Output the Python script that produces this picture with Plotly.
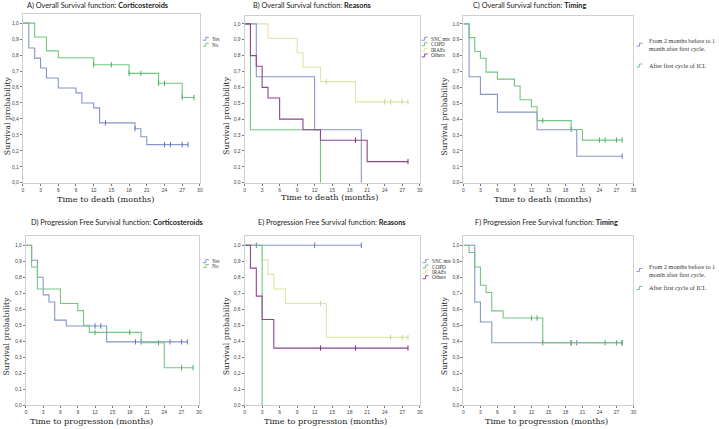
import bisect
import plotly.graph_objects as go

W, H = 719, 429

# ---------------- DATA ----------------
# Panel A: Overall survival, corticosteroids
A_yes_t = [0, 1, 2, 3, 4, 6, 9, 10, 12, 13, 19, 20, 21, 28]
A_yes_s = [1, 0.844, 0.781, 0.719, 0.656, 0.594, 0.563, 0.5, 0.469, 0.375, 0.338, 0.288, 0.239, 0.239]
A_yes_c = [14, 19, 24, 25, 27, 28]
A_no_t = [0, 2, 4, 6, 12, 18, 23, 27, 29]
A_no_s = [1, 0.913, 0.826, 0.783, 0.739, 0.685, 0.623, 0.534, 0.534]
A_no_c = [12, 15, 18, 20, 23, 24, 27, 29]

# Panel B: Overall survival, reasons
B_snc_t = [0, 2, 12, 20]
B_snc_s = [1, 0.667, 0.333, 0]
B_snc_c = []
B_copd_t = [0, 1, 13]
B_copd_s = [1, 0.333, 0]
B_copd_c = []
B_irae_t = [0, 4, 9, 10, 13, 19, 28]
B_irae_s = [1, 0.909, 0.818, 0.727, 0.636, 0.509, 0.509]
B_irae_c = [14, 24, 25, 27, 28]
B_oth_t = [0, 1, 2, 3, 4, 6, 10, 13, 21, 28]
B_oth_s = [1, 0.8, 0.733, 0.6, 0.533, 0.4, 0.333, 0.267, 0.133, 0.133]
B_oth_c = [19, 28]

# Panel C: Overall survival, timing
C_early_t = [0, 1, 3, 6, 13, 20, 28]
C_early_s = [1, 0.667, 0.556, 0.444, 0.333, 0.167, 0.167]
C_early_c = [28]
C_after_t = [0, 1, 2, 3, 4, 6, 9, 10, 12, 13, 19, 21, 28]
C_after_s = [1, 0.913, 0.826, 0.783, 0.696, 0.652, 0.609, 0.522, 0.478, 0.391, 0.335, 0.268, 0.268]
C_after_c = [14, 19, 24, 25, 27, 28]

# Panel D: PFS, corticosteroids
D_yes_t = [0, 1, 2, 3, 4, 5, 7, 14, 28]
D_yes_s = [1, 0.906, 0.8, 0.69, 0.645, 0.532, 0.495, 0.396, 0.396]
D_yes_c = [12, 13, 19, 20, 25, 27, 28]
D_no_t = [0, 1, 2, 6, 9, 10, 11, 20, 24, 29]
D_no_s = [1, 0.864, 0.727, 0.636, 0.591, 0.5, 0.455, 0.39, 0.234, 0.234]
D_no_c = [12, 18, 23, 27, 29]

# Panel E: PFS, reasons
E_snc_t = [0, 20]
E_snc_s = [1, 1]
E_snc_c = [2, 12, 20]
E_copd_t = [0, 3]
E_copd_s = [1, 0]
E_copd_c = []
E_irae_t = [0, 3, 4, 5, 7, 14, 28]
E_irae_s = [1, 0.909, 0.818, 0.727, 0.636, 0.424, 0.424]
E_irae_c = [13, 25, 27, 28]
E_oth_t = [0, 1, 2, 3, 5, 28]
E_oth_s = [1, 0.857, 0.682, 0.536, 0.357, 0.357]
E_oth_c = [13, 19, 28]

# Panel F: PFS, timing
F_early_t = [0, 2, 3, 5, 28]
F_early_s = [1, 0.645, 0.52, 0.39, 0.39]
F_early_c = [19, 20, 28]
F_after_t = [0, 1, 2, 3, 4, 5, 7, 14, 28]
F_after_s = [1, 0.955, 0.864, 0.75, 0.705, 0.59, 0.545, 0.39, 0.39]
F_after_c = [12, 13, 14, 19, 25, 27, 28]

x_ticks = [0, 3, 6, 9, 12, 15, 18, 21, 24, 27, 30]
y_ticks = [0, 0.1, 0.2, 0.3, 0.4, 0.5, 0.6, 0.7, 0.8, 0.9, 1.0]
y_ticktext = ["0,0", "0,1", "0,2", "0,3", "0,4", "0,5", "0,6", "0,7", "0,8", "0,9", "1,0"]

# ---------------- STYLE ----------------
BLUE, BLUE_D = "#8795cb", "#6474bb"
GREEN, GREEN_D = "#72c682", "#4fae5f"
YEL, YEL_D = "#e2e3a6", "#d0d190"
PURP, PURP_D = "#8e4490", "#7a3480"

def px(x):
    return x / W

def py(y):
    return 1 - y / H

# panel geometry in pixels: (x0, x1, ybottom, ytop, yrange_top)
panels = [
    (22, 200, 184, 14, 1.058),
    (245, 421, 184, 16, 1.05),
    (465, 636, 184, 16, 1.05),
    (25, 199, 408, 238, 1.056),
    (245, 421, 408, 238, 1.056),
    (465, 636, 408, 238, 1.056),
]

fig = go.Figure()

def km(panel, t, s, cens, color, dcolor, name):
    ax = "" if panel == 1 else str(panel)
    fig.add_trace(go.Scatter(x=t, y=s, mode="lines", line=dict(color=color, width=1.1, shape="hv"),
                             xaxis="x" + ax, yaxis="y" + ax, name=name, showlegend=False,
                             hoverinfo="skip"))
    if cens:
        cy = [s[bisect.bisect_right(t, c) - 1] for c in cens]
        fig.add_trace(go.Scatter(x=cens, y=cy, mode="markers",
                                 marker=dict(symbol="line-ns-open", size=3.8, color=dcolor,
                                             line=dict(color=dcolor, width=1)),
                                 xaxis="x" + ax, yaxis="y" + ax, showlegend=False,
                                 hoverinfo="skip"))

km(1, A_yes_t, A_yes_s, A_yes_c, BLUE, BLUE_D, "Yes")
km(1, A_no_t, A_no_s, A_no_c, GREEN, GREEN_D, "No")
km(2, B_irae_t, B_irae_s, B_irae_c, YEL, YEL_D, "IRAEs")
km(2, B_snc_t, B_snc_s, B_snc_c, BLUE, BLUE_D, "SNC mts")
km(2, B_copd_t, B_copd_s, B_copd_c, GREEN, GREEN_D, "COPD")
km(2, B_oth_t, B_oth_s, B_oth_c, PURP, PURP_D, "Others")
km(3, C_early_t, C_early_s, C_early_c, BLUE, BLUE_D, "early")
km(3, C_after_t, C_after_s, C_after_c, GREEN, GREEN_D, "after")
km(4, D_yes_t, D_yes_s, D_yes_c, BLUE, BLUE_D, "Yes")
km(4, D_no_t, D_no_s, D_no_c, GREEN, GREEN_D, "No")
km(5, E_irae_t, E_irae_s, E_irae_c, YEL, YEL_D, "IRAEs")
km(5, E_snc_t, E_snc_s, E_snc_c, BLUE, BLUE_D, "SNC mts")
km(5, E_copd_t, E_copd_s, E_copd_c, GREEN, GREEN_D, "COPD")
km(5, E_oth_t, E_oth_s, E_oth_c, PURP, PURP_D, "Others")
km(6, F_early_t, F_early_s, F_early_c, BLUE, BLUE_D, "early")
km(6, F_after_t, F_after_s, F_after_c, GREEN, GREEN_D, "after")

layout = {}
for i, (x0, x1, yb, yt, ytop) in enumerate(panels, start=1):
    ax = "" if i == 1 else str(i)
    layout["xaxis" + ax] = dict(domain=[px(x0), px(x1)], anchor="y" + ax, range=[0, 30],
                                tickvals=x_ticks, ticks="outside", ticklen=2, tickcolor="#777",
                                tickfont=dict(size=5, color="#444", family="Liberation Sans"),
                                showgrid=False, zeroline=False, showline=True, linecolor="#cfcfcf",
                                linewidth=1, mirror=True, fixedrange=True)
    layout["yaxis" + ax] = dict(domain=[py(yb), py(yt)], anchor="x" + ax, range=[0, ytop],
                                tickvals=y_ticks, ticktext=y_ticktext, ticks="outside", ticklen=2,
                                tickcolor="#777",
                                tickfont=dict(size=5, color="#444", family="Liberation Sans"),
                                showgrid=False, zeroline=False, showline=True, linecolor="#cfcfcf",
                                linewidth=1, mirror=True, fixedrange=True)

fig.update_layout(**layout)

annotations = []
TFONT = dict(family="Lato", size=7.3, color="#222")
titles = [
    (97, 6, "A) Overall Survival function: <b>Corticosteroids</b>"),
    (313, 6, "B) Overall Survival function: <b>Reasons</b>"),
    (531, 6, "C) Overall Survival function: <b>Timing</b>"),
    (117, 224, "D) Progression Free Survival function: <b>Corticosteroids</b>"),
    (333, 224, "E) Progression Free Survival function: <b>Reasons</b>"),
    (549, 224, "F) Progression Free Survival function: <b>Timing</b>"),
]
for x, y, txt in titles:
    annotations.append(dict(x=px(x), y=py(y), xref="paper", yref="paper", text=txt,
                            showarrow=False, font=TFONT, xanchor="center", yanchor="middle"))

XFONT = dict(family="DejaVu Serif", size=8.2, color="#222")
YFONT = dict(family="DejaVu Serif", size=7.8, color="#222")
xtitles = [(105, 200, "Time to death (months)"), (330, 198, "Time to death (months)"),
           (545, 200, "Time to death (months)"), (91, 424, "Time to progression (months)"),
           (326, 424, "Time to progression (months)"), (549, 424, "Time to progression (months)")]
for x, y, txt in xtitles:
    annotations.append(dict(x=px(x), y=py(y), xref="paper", yref="paper", text=txt,
                            showarrow=False, font=XFONT, xanchor="center", yanchor="middle"))

ytitles = [(6, 116), (226, 116), (446, 117), (6, 338), (227, 338), (446, 338)]
for x, y in ytitles:
    annotations.append(dict(x=px(x), y=py(y), xref="paper", yref="paper",
                            text="Survival probability", textangle=-90, showarrow=False,
                            font=YFONT, xanchor="center", yanchor="middle"))

# legends (drawn as small step icons + text)
LFONT = dict(family="Liberation Serif", size=5.2, color="#333")
LFONT2 = dict(family="Liberation Serif", size=6.2, color="#333")
shapes = []

def legend_item(xs, y, color, text, font, xt=None):
    shapes.append(dict(type="path", xref="paper", yref="paper",
                       path=f"M {px(xs)} {py(y + 1.5)} L {px(xs + 3)} {py(y + 1.5)} L {px(xs + 3)} {py(y - 1.5)} L {px(xs + 6)} {py(y - 1.5)}",
                       line=dict(color=color, width=1)))
    annotations.append(dict(x=px(xt if xt is not None else xs + 7), y=py(y), xref="paper", yref="paper",
                            text=text, showarrow=False, font=font, xanchor="left",
                            yanchor="middle", align="left"))

legend_item(203, 39, BLUE, "Yes", LFONT)
legend_item(203, 45, GREEN, "No", LFONT)
for k, (lab, col) in enumerate([("SNC mts", BLUE), ("COPD", GREEN), ("IRAEs", YEL), ("Others", PURP)]):
    legend_item(423, 39 + k * 5.6, col, lab, LFONT)
legend_item(639, 45, BLUE, "From 2 months before to 1<br>month after first cycle.", LFONT2, xt=650)
legend_item(639, 66, GREEN, "After first cycle of ICI.", LFONT2, xt=650)
legend_item(203, 263, BLUE, "Yes", LFONT)
legend_item(203, 268, GREEN, "No", LFONT)
for k, (lab, col) in enumerate([("SNC mts", BLUE), ("COPD", GREEN), ("IRAEs", YEL), ("Others", PURP)]):
    legend_item(424, 263 + k * 5.4, col, lab, LFONT)
legend_item(639, 272, BLUE, "From 2 months before to 1<br>month after first cycle.", LFONT2, xt=650)
legend_item(639, 290, GREEN, "After first cycle of ICI.", LFONT2, xt=650)

fig.update_layout(width=W, height=H, margin=dict(l=0, r=0, t=0, b=0),
                  paper_bgcolor="white", plot_bgcolor="white",
                  annotations=annotations, shapes=shapes, showlegend=False)

fig.write_html("out.html", config={"displayModeBar": False},
               post_script="document.body.style.margin='0';document.body.style.overflow='hidden';")
